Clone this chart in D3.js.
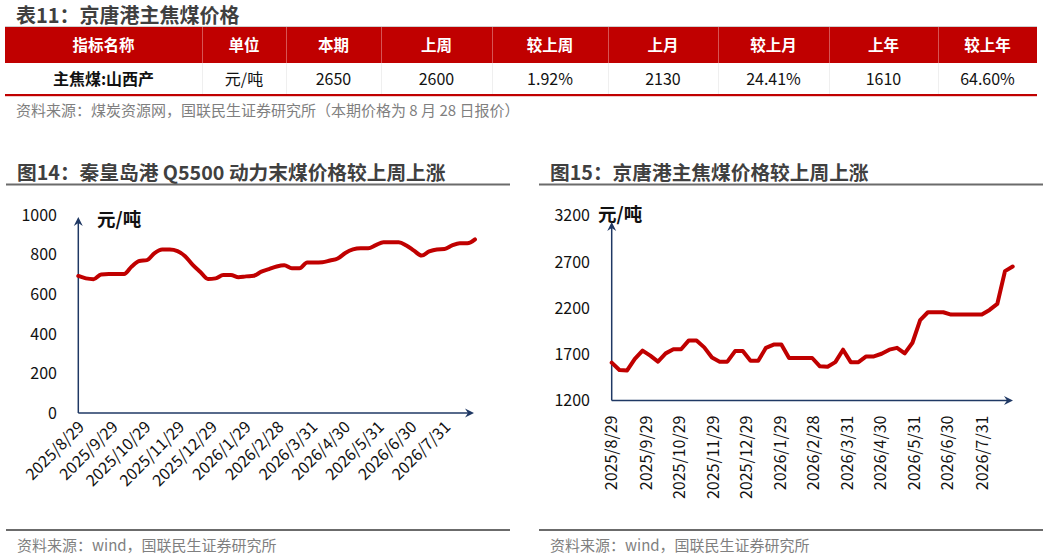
<!DOCTYPE html>
<html><head><meta charset="utf-8">
<script src="https://cdn.jsdelivr.net/npm/d3@7"></script>
<style>
body{margin:0;background:#fff;}
svg{display:block;font-family:"Noto Sans CJK SC","Noto Sans",sans-serif;}
</style>
</head><body><svg id="c" width="1049" height="558"></svg>
<script>
// ---------- data ----------
const tableHeaders = ["指标名称","单位","本期","上周","较上周","上月","较上月","上年","较上年"];
const tableRow = ["主焦煤:山西产","元/吨","2650","2600","1.92%","2130","24.41%","1610","64.60%"];

const weekDates = ["2025-08-29","2025-09-05","2025-09-12","2025-09-19","2025-09-26","2025-10-03","2025-10-10","2025-10-17","2025-10-24","2025-10-31",
"2025-11-07","2025-11-14","2025-11-21","2025-11-28","2025-12-05","2025-12-12","2025-12-19","2025-12-26",
"2026-01-02","2026-01-09","2026-01-16","2026-01-23","2026-01-30","2026-02-06","2026-02-13","2026-02-20","2026-02-27",
"2026-03-06","2026-03-13","2026-03-20","2026-03-27","2026-04-03","2026-04-10","2026-04-17","2026-04-24",
"2026-05-01","2026-05-08","2026-05-15","2026-05-22","2026-05-29","2026-06-05","2026-06-12","2026-06-19","2026-06-26",
"2026-07-03","2026-07-10","2026-07-17","2026-07-24","2026-07-31","2026-08-07","2026-08-14","2026-08-21","2026-08-28"];

const tickLabels = ["2025/8/29","2025/9/29","2025/10/29","2025/11/29","2025/12/29","2026/1/29","2026/2/28","2026/3/31","2026/4/30","2026/5/31","2026/6/30","2026/7/31"];

const qhdPrice = [692,680,676,700,702,702,702,740,768,772,808,826,826,818,792,748,712,677,680,697,697,686,690,693,714,727,740,746,731,731,760,760,761,770,780,808,826,832,832,848,862,862,862,846,820,795,816,826,828,846,857,857,877];
const jtgPrice = [1610,1530,1525,1650,1740,1685,1620,1710,1755,1755,1850,1850,1775,1665,1620,1620,1735,1735,1630,1630,1770,1805,1805,1660,1660,1660,1660,1570,1565,1615,1750,1615,1615,1677,1677,1706,1750,1770,1710,1825,2070,2155,2155,2155,2130,2130,2130,2130,2130,2180,2245,2600,2650];

const leftYTicks = [0,200,400,600,800,1000];
const rightYTicks = [1200,1700,2200,2700,3200];

// ---------- layout ----------
const RED = "#c00000", NAVY = "#1f3864", TITLE = "#404040", GREY = "#7f7f7f";
const svg = d3.select("#c");
const parse = d3.timeParse("%Y-%m-%d");
const tparse = d3.timeParse("%Y/%m/%d");
const dates = weekDates.map(parse);
const tickDates = tickLabels.map(tparse);

// Title of table
svg.append("text").attr("x",16).attr("y",23).attr("font-size",20).attr("font-weight","bold")
  .attr("fill",TITLE).text("表11：京唐港主焦煤价格");

const colEdges = [5,202,286,381,492,608,718,829,938,1037];
const hdrTop = 27, hdrBot = 63, rowBot = 95;
svg.append("line").attr("x1",5).attr("x2",1037).attr("y1",hdrTop-0.5).attr("y2",hdrTop-0.5).attr("stroke","#d0d0d0");
svg.append("rect").attr("x",colEdges[0]).attr("y",hdrTop).attr("width",colEdges[9]-colEdges[0]).attr("height",hdrBot-hdrTop).attr("fill",RED);
colEdges.slice(1,-1).forEach(x=>{
  svg.append("line").attr("x1",x+0.5).attr("x2",x+0.5).attr("y1",hdrTop).attr("y2",hdrBot).attr("stroke","#d65454").attr("stroke-width",1);
  svg.append("line").attr("x1",x+0.5).attr("x2",x+0.5).attr("y1",hdrBot).attr("y2",rowBot).attr("stroke","#efefef").attr("stroke-width",1);
});
tableHeaders.forEach((h,i)=>{
  svg.append("text").attr("x",(colEdges[i]+colEdges[i+1])/2).attr("y",(hdrTop+hdrBot)/2).attr("dy","0.36em")
    .attr("text-anchor","middle").attr("font-size",15.5).attr("font-weight","bold").attr("fill","#fff").text(h);
});
tableRow.forEach((v,i)=>{
  svg.append("text").attr("x",(colEdges[i]+colEdges[i+1])/2).attr("y",(hdrBot+rowBot)/2).attr("dy","0.36em")
    .attr("text-anchor","middle").attr("font-size",16).attr("font-weight",i===0?"bold":"normal").attr("fill","#111").text(v);
});
svg.append("rect").attr("x",5).attr("y",rowBot-1).attr("width",1032).attr("height",2.2).attr("fill",RED);
svg.append("text").attr("x",16).attr("y",116).attr("font-size",15).attr("fill",GREY)
  .text("资料来源：煤炭资源网，国联民生证券研究所（本期价格为 8 月 28 日报价）");

// ---------- chart helper ----------
function arrowUp(x,y){ return `M${x-4.5},${y+9}L${x},${y}L${x+4.5},${y+9}L${x},${y+6}Z`; }
function arrowRight(x,y){ return `M${x-9},${y-4.5}L${x},${y}L${x-9},${y+4.5}L${x-6},${y}Z`; }

function panel(o){
  svg.append("text").attr("x",o.titleX).attr("y",180).attr("font-size",19.7).attr("font-weight","bold").attr("fill",TITLE).text(o.title);
  svg.append("line").attr("x1",o.left).attr("x2",o.right).attr("y1",184.5).attr("y2",184.5).attr("stroke","#6b6b6b").attr("stroke-width",2);
  svg.append("line").attr("x1",o.left).attr("x2",o.right).attr("y1",530).attr("y2",530).attr("stroke","#6b6b6b").attr("stroke-width",2);
  svg.append("text").attr("x",o.titleX).attr("y",551).attr("font-size",15).attr("fill",GREY).text("资料来源：wind，国联民生证券研究所");

  const x = d3.scaleTime().domain([dates[0],dates[dates.length-1]]).range([o.x0,o.x1]);
  const y = d3.scaleLinear().domain(o.yDomain).range([o.y0,o.y1]);

  svg.append("g").selectAll("text").data(o.yTicks).join("text")
    .attr("x",o.yLabX).attr("y",d=>y(d)).attr("dy","0.36em").attr("text-anchor","end")
    .attr("font-size",16).attr("fill","#111").text(d=>d);

  svg.append("text").attr("x",o.unitX).attr("y",o.unitY).attr("font-size",18.5).attr("font-weight","bold").attr("fill","#111").text("元/吨");

  const g = svg.append("g");
  tickDates.forEach((d,i)=>{
    const tx = x(d);
    if(o.rot===-45){
      g.append("text").attr("transform",`translate(${tx+3},${o.y0+11}) rotate(-45)`)
        .attr("text-anchor","end").attr("dy","0.36em").attr("font-size",16).attr("fill","#111").text(tickLabels[i]);
    } else {
      g.append("text").attr("transform",`translate(${tx},${o.y0+15}) rotate(-90)`)
        .attr("text-anchor","end").attr("dy","0.36em").attr("font-size",16).attr("fill","#111").text(tickLabels[i]);
    }
  });

  const axX = x.range()[0];
  svg.append("line").attr("x1",axX).attr("x2",axX).attr("y1",o.y0).attr("y2",o.axTop+3).attr("stroke",NAVY).attr("stroke-width",1.5);
  svg.append("path").attr("d",arrowUp(axX,o.axTop)).attr("fill",NAVY);
  svg.append("line").attr("x1",axX).attr("x2",o.axRight-3).attr("y1",o.y0).attr("y2",o.y0).attr("stroke",NAVY).attr("stroke-width",1.5);
  svg.append("path").attr("d",arrowRight(o.axRight,o.y0)).attr("fill",NAVY);

  const line = d3.line().x((d,i)=>x(dates[i])).y(d=>y(d)).curve(o.curve);
  svg.append("path").datum(o.values).attr("d",line).attr("fill","none").attr("stroke",RED)
    .attr("stroke-width",4).attr("stroke-linejoin","round").attr("stroke-linecap","round");
}

panel({title:"图14：秦皇岛港 Q5500 动力末煤价格较上周上涨", titleX:17, left:6, right:510,
  x0:78.3, x1:475, yDomain:[0,1000], y0:413, y1:215, yTicks:leftYTicks, yLabX:57,
  unitX:97, unitY:226, rot:-45, axTop:217, axRight:474, values:qhdPrice, curve:d3.curveMonotoneX});

panel({title:"图15：京唐港主焦煤价格较上周上涨", titleX:550, left:539, right:1043,
  x0:611.7, x1:1012.7, yDomain:[1200,3200], y0:400.5, y1:215.7, yTicks:rightYTicks, yLabX:590,
  unitX:598, unitY:221, rot:-90, axTop:222, axRight:1013, values:jtgPrice, curve:d3.curveLinear});
</script>
</body></html>
